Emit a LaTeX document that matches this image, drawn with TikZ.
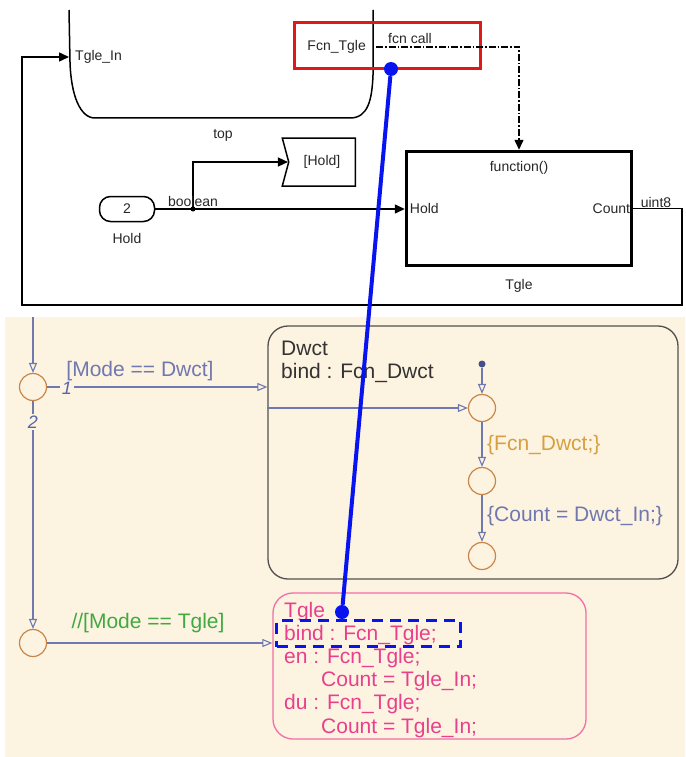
\documentclass[tikz,border=0pt]{standalone}
\usepackage{fontspec}
\setmainfont{Liberation Sans}
\usetikzlibrary{arrows.meta,positioning,shapes.symbols}
\definecolor{Beige}{HTML}{FDF3E1}
\definecolor{StLine}{HTML}{7078B0}
\definecolor{StNum}{HTML}{5664A8}
\definecolor{Junc}{HTML}{C8864A}
\definecolor{Gold}{HTML}{D6A040}
\definecolor{Grn}{HTML}{40AA40}
\definecolor{Pink}{HTML}{E8408C}
\definecolor{PinkLine}{HTML}{F070A8}
\definecolor{DarkGray}{HTML}{505050}
\definecolor{HiRed}{HTML}{E01818}
\definecolor{HiBlue}{HTML}{0814F0}

\begin{document}
\begin{tikzpicture}[x=1pt,y=-1pt,
    lbl/.style={font=\fontsize{14}{16}\selectfont,text=black!85,inner sep=0pt},
    blk/.style={black,line width=1.5pt},
    sig/.style={black,line width=1.5pt,-{Triangle[length=10pt,width=9pt]}},
    st/.style={font=\fontsize{21}{24}\selectfont,inner sep=0pt,anchor=base west},
    junc/.style={circle,draw=Junc,line width=1.2pt,minimum size=27pt,inner sep=0pt},
    tr/.style={StLine,line width=1.1pt,-{Triangle[open,length=10pt,width=8pt]}},
    bdot/.style={circle,fill=HiBlue,minimum size=14pt,inner sep=0pt}]
  \useasboundingbox (0,0) rectangle (685,757);

  % simulink part
  \draw[blk] (69,10) -- (70,62) .. controls (71,95) and (80,118) .. (95,118)
    -- (350,118) .. controls (368,118) and (372,100) .. (373,75) -- (373,10);
  \coordinate (chartin) at (69,57);
  \node[lbl,anchor=west] (tglein) at (75,57) {Tgle\_In};
  \node[lbl,anchor=east] (fcnout) at (366,47) {Fcn\_Tgle};
  \node[draw=HiRed,line width=3pt,minimum width=186pt,minimum height=46pt,inner sep=0pt] (hilite) at (387,46) {};
  \node[draw,line width=3.5pt,minimum width=225pt,minimum height=114pt,inner sep=0pt] (tgle) at (519,208.5) {};
  \node[lbl,below=11pt of tgle.north] (fcnport) {function()};
  \node[lbl,right=5pt of tgle.west] (holdport) {Hold};
  \node[lbl,left=3pt of tgle.east] (countport) {Count};
  \node[lbl,below=12pt of tgle.south] (tglename) {Tgle};
  \node[lbl,draw=black,line width=1.5pt,rounded corners=11pt,minimum width=55pt,minimum height=25pt] (inport) at (127,209) {2};
  \node[lbl,below=11pt of inport] (inname) {Hold};
  \node[lbl,draw=black,line width=1.5pt,signal,signal from=west,signal to=nowhere,signal pointer angle=150,minimum width=73pt,minimum height=48pt] (goto) at (322,162) {[Hold]};
  \coordinate (br) at (193,209);
  \coordinate (fcall) at (376,47);
  \coordinate (fbR) at (682,305);
  \coordinate (fbL) at (22,305);

  \draw[sig] (inport.east) -- (inport.east -| tgle.west);
  \fill (br) circle (2.5pt);
  \draw[sig] (br) |- (goto.west);
  \draw[sig,dash pattern=on 7pt off 2pt on 1.5pt off 2pt] (fcall) -| (tgle.north);
  \draw[sig] (tgle.east) -| (fbR) -- (fbL) |- (chartin);
  \node[lbl,anchor=south] (fcnlab) at (410,44) {fcn call};
  \node[lbl,anchor=south] (boollab) at (193,207) {boolean};
  \node[lbl] (toplab) at (223,135) {top};
  \node[lbl,anchor=south] (uintlab) at (656,208) {uint8};

  % stateflow part
  \fill[Beige] (5,317) rectangle (685,757);
  \coordinate (topin) at (33,317);
  \node[junc] (j1) at (33,387) {};
  \node[junc] (j2) at (33,643) {};
  \node[draw=DarkGray,line width=1.3pt,rounded corners=20pt,minimum width=410pt,minimum height=253pt,inner sep=0pt] (dwct) at (473,452.5) {};
  \node[draw=PinkLine,line width=1.3pt,rounded corners=20pt,minimum width=313pt,minimum height=146pt,inner sep=0pt] (tgst) at (429.5,666) {};
  \node[junc] (c1) at (482,408) {};
  \node[junc] (c2) at (482,481) {};
  \node[junc] (c3) at (482,556) {};
  \node[circle,fill=StNum!80!black,minimum size=7pt,inner sep=0pt] (dflt) at (482,364) {};

  \draw[tr] (topin) -- (j1.north);
  \draw[tr] (j1.south) -- (j2.north);
  \draw[tr] (j1.east) -- (j1 -| dwct.west);
  \draw[tr] (c1 -| dwct.west) -- (c1.west);
  \draw[tr] (j2.east) -- (j2 -| tgst.west);
  \draw[tr] (dflt) -- (c1.north);
  \draw[tr] (c1.south) -- (c2.north);
  \draw[tr] (c2.south) -- (c3.north);

  \node[st,anchor=center,fill=Beige,inner sep=1.5pt,text=StNum,font=\fontsize{18}{20}\selectfont\itshape] (n1) at (67,388) {1};
  \node[st,anchor=center,fill=Beige,inner sep=1.5pt,text=StNum,font=\fontsize{18}{20}\selectfont\itshape] (n2) at (33,422) {2};
  \node[st,anchor=center,text=StLine] (g1) at (140,371) {[Mode == Dwct]};
  \node[st,anchor=center,text=Grn] (g2) at (148,623) {//[Mode == Tgle]};
  \node[st,anchor=west,text=Gold] (a1) at (487,445) {\{Fcn\_Dwct;\}};
  \node[st,anchor=west,text=StLine] (a2) at (487,516) {\{Count = Dwct\_In;\}};
  \node[st,text=black!80] (dwctname) at (281,355) {Dwct};
  \node[st,text=black!80] (dwctbind) at (281,378) {bind : Fcn\_Dwct};
  \foreach \txt/\x [count=\i] in {Tgle/284,bind : Fcn\_Tgle;/284,en : Fcn\_Tgle;/284,
      Count = Tgle\_In;/321,du : Fcn\_Tgle;/284,Count = Tgle\_In;/321}
    \node[st,text=Pink] (tgtxt\i) at (\x,593.8+23.2*\i) {\txt};

  % highlight link
  \node[draw=HiBlue,line width=3pt,dash pattern=on 11pt off 7pt,minimum width=184pt,minimum height=26pt,inner sep=0pt] (bindhl) at (368.5,633.5) {};
  \node[bdot] (bd1) at (391,69) {};
  \node[bdot] (bd2) at (342,612) {};
  \draw[HiBlue,line width=4pt] (bd1) -- (bd2);
\end{tikzpicture}
\end{document}
